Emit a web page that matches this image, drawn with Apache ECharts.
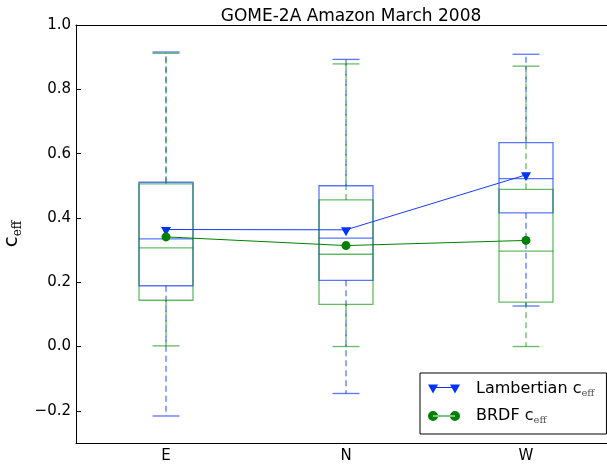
<!DOCTYPE html>
<html>
<head>
<meta charset="utf-8">
<script src="https://cdn.jsdelivr.net/npm/echarts@6/dist/echarts.min.js"></script>
<style>html,body{margin:0;padding:0;background:#fff}#c{width:607px;height:466px}</style>
</head>
<body>
<div id="c"></div>
<script>
var categories = ['E', 'N', 'W'];
var yTicks = [-0.2, 0.0, 0.2, 0.4, 0.6, 0.8, 1.0];

var lambLow    = [-0.216, -0.146, 0.126];
var lambQ1     = [0.189, 0.206, 0.416];
var lambMedian = [0.335, 0.337, 0.522];
var lambQ3     = [0.511, 0.500, 0.634];
var lambHigh   = [0.916, 0.893, 0.909];
var lambMean   = [0.364, 0.363, 0.534];

var brdfLow    = [0.002, 0.000, 0.000];
var brdfQ1     = [0.144, 0.131, 0.138];
var brdfMedian = [0.307, 0.287, 0.297];
var brdfQ3     = [0.506, 0.456, 0.489];
var brdfHigh   = [0.912, 0.879, 0.872];
var brdfMean   = [0.341, 0.314, 0.330];

function boxData(lo, q1, md, q3, hi) {
  return categories.map(function (c, i) { return [i, lo[i], q1[i], md[i], q3[i], hi[i]]; });
}

function boxRender(color) {
  return function (params, api) {
    var x = api.value(0);
    var lo = api.coord([x, api.value(1)]);
    var q1 = api.coord([x, api.value(2)]);
    var md = api.coord([x, api.value(3)]);
    var q3 = api.coord([x, api.value(4)]);
    var hi = api.coord([x, api.value(5)]);
    var bw = api.size([1, 0])[0] * 0.3;
    var cx = lo[0], half = bw / 2, cap = bw / 4;
    var st = { stroke: color, lineWidth: 1.3, fill: null };
    var dash = { stroke: color, lineWidth: 1.3, fill: null, lineDash: [6, 4] };
    return {
      type: 'group',
      children: [
        { type: 'rect', shape: { x: cx - half, y: q3[1], width: bw, height: q1[1] - q3[1] }, style: st },
        { type: 'line', shape: { x1: cx - half, y1: md[1], x2: cx + half, y2: md[1] }, style: st },
        { type: 'line', shape: { x1: cx, y1: q3[1], x2: cx, y2: hi[1] }, style: dash },
        { type: 'line', shape: { x1: cx, y1: q1[1], x2: cx, y2: lo[1] }, style: dash },
        { type: 'line', shape: { x1: cx - cap, y1: hi[1], x2: cx + cap, y2: hi[1] }, style: st },
        { type: 'line', shape: { x1: cx - cap, y1: lo[1], x2: cx + cap, y2: lo[1] }, style: st }
      ]
    };
  };
}

var triPath = 'path://M0,0 L10,0 L5,9 Z';
var lambIcon = 'path://M0,0 L10,0 L5,9 Z M22,0 L32,0 L27,9 Z M5,2.5 L27,2.5 L27,3.5 L5,3.5 Z';
var brdfIcon = 'path://M0,5 A5,5 0 1,0 10,5 A5,5 0 1,0 0,5 Z M22,5 A5,5 0 1,0 32,5 A5,5 0 1,0 22,5 Z M5,4.5 L27,4.5 L27,5.5 L5,5.5 Z';

var chart = echarts.init(document.getElementById('c'), null, { renderer: 'canvas' });
var font = 'DejaVu Sans';
chart.setOption({
  animation: false,
  backgroundColor: '#fff',
  title: {
    text: 'GOME-2A Amazon March 2008',
    left: 346, top: 3, textAlign: 'center',
    textStyle: { fontFamily: font, fontSize: 17, fontWeight: 'normal', color: '#000' }
  },
  grid: { left: 76, top: 25, width: 540, height: 418, containLabel: false, outerBoundsMode: 'none' },
  legend: {
    orient: 'vertical',
    left: 420, top: 373,
    padding: [7, 12, 9, 8],
    itemGap: 9,
    itemWidth: 32, itemHeight: 10,
    borderColor: '#000', borderWidth: 1, backgroundColor: '#fff',
    data: [
      { name: 'Lambertian', icon: lambIcon },
      { name: 'BRDF', icon: brdfIcon }
    ],
    formatter: function (n) { return '{a|' + n + ' c}{b|eff}'; },
    textStyle: {
      rich: {
        a: { fontFamily: font, fontSize: 16, color: '#000', padding: [0, 0, 0, 11], lineHeight: 20 },
        b: { fontFamily: 'DejaVu Serif', fontSize: 10, color: '#555', padding: [8, 0, 0, 0], lineHeight: 20 }
      }
    }
  },
  xAxis: [{
    type: 'category', data: categories, position: 'bottom',
    axisLine: { onZero: false, lineStyle: { color: '#000', width: 1 } },
    axisTick: { inside: true, length: 5, alignWithLabel: true, lineStyle: { color: '#000' } },
    axisLabel: { fontFamily: font, fontSize: 15, color: '#000', margin: 6 },
    splitLine: { show: false }
  }, {
    type: 'category', data: categories, position: 'top',
    axisLine: { onZero: false, lineStyle: { color: '#000', width: 1 } },
    axisTick: { inside: true, length: 5, alignWithLabel: true, lineStyle: { color: '#000' } },
    axisLabel: { show: false },
    splitLine: { show: false }
  }],
  yAxis: {
    type: 'value', min: -0.3, max: 1.0,
    axisLine: { show: true, onZero: false, lineStyle: { color: '#000', width: 1 } },
    axisTick: { show: true, inside: true, length: 5, customValues: yTicks, lineStyle: { color: '#000' } },
    axisLabel: {
      customValues: yTicks, fontFamily: font, fontSize: 15, color: '#000', margin: 5,
      formatter: function (v) { return (v < 0 ? '\u2212' : '') + Math.abs(v).toFixed(1); }
    },
    splitLine: { show: false },
    name: '{a|c}{b|eff}',
    nameLocation: 'middle', nameRotate: 90, nameGap: 48,
    nameTextStyle: {
      rich: {
        a: { fontFamily: font, fontSize: 20, color: '#000', lineHeight: 26 },
        b: { fontFamily: 'DejaVu Serif', fontSize: 12, color: '#000', padding: [11, 0, 0, 0], lineHeight: 26 }
      }
    }
  },
  series: [
    {
      name: 'lambBox', type: 'custom', renderItem: boxRender('rgba(20,60,255,0.7)'),
      encode: { x: 0, y: [1, 2, 3, 4, 5] },
      data: boxData(lambLow, lambQ1, lambMedian, lambQ3, lambHigh), z: 2
    },
    {
      name: 'brdfBox', type: 'custom', renderItem: boxRender('rgba(0,140,0,0.6)'),
      encode: { x: 0, y: [1, 2, 3, 4, 5] },
      data: boxData(brdfLow, brdfQ1, brdfMedian, brdfQ3, brdfHigh), z: 3
    },
    {
      name: 'Lambertian', type: 'line', data: lambMean,
      symbol: triPath, symbolSize: [10, 9], symbolOffset: [0, 2],
      itemStyle: { color: '#0033ff' }, lineStyle: { color: '#1a3cff', width: 1 }, z: 5
    },
    {
      name: 'BRDF', type: 'line', data: brdfMean,
      symbol: 'circle', symbolSize: 9,
      itemStyle: { color: '#008000' }, lineStyle: { color: '#008000', width: 1 }, z: 6
    }
  ]
});
</script>
</body>
</html>
